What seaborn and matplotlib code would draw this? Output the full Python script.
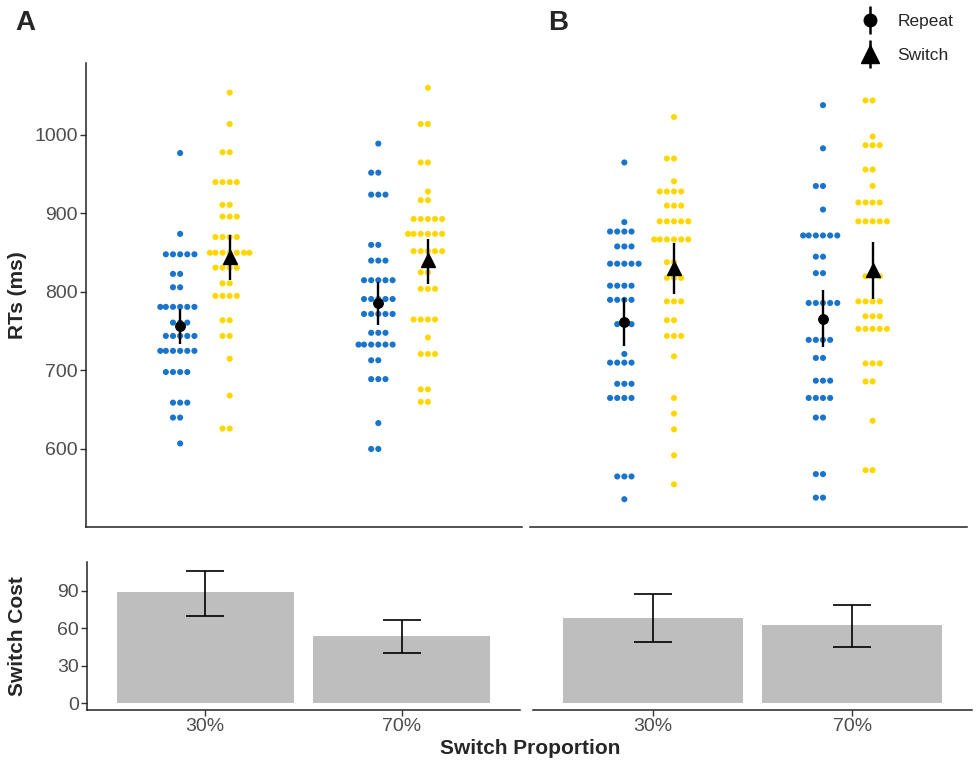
import numpy as np
import pandas as pd
import matplotlib
matplotlib.use("Agg")
import matplotlib.pyplot as plt
import seaborn as sns
from matplotlib.lines import Line2D
from matplotlib.legend_handler import HandlerTuple

# -----------------------
# Data
# -----------------------
props = ["30%", "70%"]
trials = ["Repeat", "Switch"]

# Panel A: RTs per participant (ms)
a_rep_30 = [977, 874, 848, 848, 848, 848, 848, 823, 823, 806, 806,
            781, 781, 781, 781, 781, 781, 761, 761, 761,
            744, 744, 744, 744, 744, 725, 725, 725, 725, 725, 725,
            698, 698, 698, 698, 659, 659, 659, 640, 640, 607]
a_sw_30 = [1054, 1014, 978, 978, 940, 940, 940, 940, 911, 911, 896, 896, 896,
           870, 870, 870, 870, 850, 850, 850, 850, 850, 850, 850,
           831, 831, 831, 831, 811, 811, 795, 795, 795, 795,
           764, 764, 744, 744, 715, 668, 626, 626]
a_rep_70 = [989, 952, 952, 924, 924, 924, 860, 860, 840, 840, 840,
            815, 815, 815, 815, 815, 791, 791, 791, 791, 791,
            772, 772, 772, 772, 772, 748, 748, 748, 733, 733, 733, 733, 733, 733,
            713, 713, 689, 689, 689, 633, 600, 600]
a_sw_70 = [1060, 1014, 1014, 965, 965, 928, 917, 917, 893, 893, 893, 893, 893,
           874, 874, 874, 874, 874, 874, 852, 852, 852, 852, 852, 825, 825,
           804, 804, 804, 765, 765, 765, 765, 742, 721, 721, 721, 676, 676, 660, 660]

# Panel B: RTs per participant (ms)
b_rep_30 = [965, 889, 877, 877, 877, 877, 858, 858, 858, 836, 836, 836, 836, 836,
            808, 808, 808, 808, 790, 790, 790, 790, 759, 759, 759, 721,
            710, 710, 710, 710, 683, 683, 683, 665, 665, 665, 665, 565, 565, 565, 536]
b_sw_30 = [1023, 970, 970, 941, 928, 928, 928, 928, 910, 910, 910,
           890, 890, 890, 890, 890, 867, 867, 867, 867, 867, 867, 838, 838,
           818, 818, 818, 788, 788, 788, 764, 764, 744, 744, 744,
           718, 665, 645, 625, 592, 555]
b_rep_70 = [1038, 983, 935, 935, 905, 872, 872, 872, 872, 872, 872, 845, 845, 824, 824,
            786, 786, 786, 786, 786, 763, 739, 739, 739, 739, 716, 716, 687, 687, 687,
            665, 665, 665, 665, 640, 640, 568, 568, 538, 538]
b_sw_70 = [1044, 1044, 998, 987, 987, 987, 956, 956, 935, 914, 914, 914, 914,
           890, 890, 890, 890, 890, 820, 820, 820, 788, 788, 788, 788, 769, 769, 769,
           753, 753, 753, 753, 753, 709, 709, 709, 686, 686, 636, 573, 573]

# condition means with 95% CI (ms)
a_rep_mean, a_rep_lo, a_rep_hi = [757, 786], [734, 758], [778, 813]
a_sw_mean, a_sw_lo, a_sw_hi = [845, 841], [815, 810], [873, 868]
b_rep_mean, b_rep_lo, b_rep_hi = [762, 766], [731, 730], [792, 803]
b_sw_mean, b_sw_lo, b_sw_hi = [831, 828], [798, 791], [863, 864]

# switch cost (ms) with 95% CI
a_cost, a_cost_lo, a_cost_hi = [88.9, 54.2], [70.2, 40.5], [105.8, 66.7]
b_cost, b_cost_lo, b_cost_hi = [68.6, 62.5], [48.9, 45.4], [87.6, 78.5]

BLUE = "#1874CD"
GOLD = "#FFD700"
BAR = "#BEBEBE"
DODGE = 0.125

sns.set_style("ticks")
plt.rcParams["font.family"] = ["Liberation Sans", "DejaVu Sans"]

W, H = 978, 769
fig = plt.figure(figsize=(W / 100, H / 100), dpi=100)


def box(l, t, r, b):
    return [l / W, 1 - b / H, (r - l) / W, (b - t) / H]


ax_a = fig.add_axes(box(86, 63, 522, 527))
ax_b = fig.add_axes(box(530, 63, 967, 527))
ax_ca = fig.add_axes(box(87, 562, 520, 710))
ax_cb = fig.add_axes(box(533, 562, 972, 710))


def style_axis(ax, show_y):
    ax.tick_params(axis="both", length=4, width=1, color="#333333",
                   labelsize=14, labelcolor="#4D4D4D", pad=2)
    for s in ["top", "right"]:
        ax.spines[s].set_visible(False)
    for s in ["left", "bottom"]:
        ax.spines[s].set_linewidth(1.1)
        ax.spines[s].set_color("#222222")
    if not show_y:
        ax.spines["left"].set_visible(False)
        ax.set_yticks([])
    ax.set_xlabel("")
    ax.set_ylabel("")


def rt_panel(ax, rep, sw, rep_stats, sw_stats, show_y):
    rows = []
    for i in range(len(props)):
        for t, vals, off in [("Repeat", rep[i], -DODGE), ("Switch", sw[i], DODGE)]:
            for v in vals:
                rows.append({"pos": i + off, "rt": v, "trial": t})
    df = pd.DataFrame(rows)
    sns.swarmplot(data=df, x="pos", y="rt", hue="trial", hue_order=trials,
                  palette=[BLUE, GOLD], native_scale=True, orient="x",
                  size=4.4, linewidth=0.5, edgecolor="none", legend=False,
                  warn_thresh=1, ax=ax)
    for (m, lo, hi), mk, ms, off in [(rep_stats, "o", 6.8, -DODGE),
                                     (sw_stats, "^", 9.5, DODGE)]:
        x = np.arange(len(props)) + off
        ax.errorbar(x, m, yerr=[np.subtract(m, lo), np.subtract(hi, m)],
                    fmt=mk, color="black", ms=ms, elinewidth=1.7, capsize=0,
                    zorder=5)
    ax.set_xlim(-0.6, 1.6)
    ax.set_ylim(500.6, 1091.7)
    ax.set_yticks([600, 700, 800, 900, 1000])
    ax.set_xticks([])
    style_axis(ax, show_y)


def cost_panel(ax, cost, lo, hi, show_y):
    sns.barplot(x=props, y=cost, color=BAR, saturation=1, width=0.9,
                errorbar=None, linewidth=0, ax=ax)
    ax.errorbar(np.arange(len(props)), cost,
                yerr=[np.subtract(cost, lo), np.subtract(hi, cost)],
                fmt="none", ecolor="black", elinewidth=1.2, capthick=1.2,
                capsize=14, zorder=3)
    ax.set_xlim(-0.6, 1.6)
    ax.set_ylim(-5.4, 113.2)
    ax.set_yticks([0, 30, 60, 90])
    style_axis(ax, show_y)


rt_panel(ax_a, [a_rep_30, a_rep_70], [a_sw_30, a_sw_70],
         (a_rep_mean, a_rep_lo, a_rep_hi), (a_sw_mean, a_sw_lo, a_sw_hi), True)
rt_panel(ax_b, [b_rep_30, b_rep_70], [b_sw_30, b_sw_70],
         (b_rep_mean, b_rep_lo, b_rep_hi), (b_sw_mean, b_sw_lo, b_sw_hi), False)
cost_panel(ax_ca, a_cost, a_cost_lo, a_cost_hi, True)
cost_panel(ax_cb, b_cost, b_cost_lo, b_cost_hi, False)

# labels
fig.text(15 / W, 1 - 23 / H, "A", fontsize=20, fontweight="bold", va="center", ha="left")
fig.text(548 / W, 1 - 23 / H, "B", fontsize=20, fontweight="bold", va="center", ha="left")
fig.text(18 / W, 1 - 295 / H, "RTs (ms)", fontsize=15, fontweight="bold",
         rotation=90, va="center", ha="center")
fig.text(18 / W, 1 - 636 / H, "Switch Cost", fontsize=15, fontweight="bold",
         rotation=90, va="center", ha="center")
fig.text(530 / W, 1 - 748 / H, "Switch Proportion", fontsize=15,
         fontweight="bold", va="center", ha="center")

# legend
vbar = dict(color="black", marker="|", ms=20, mew=1.8, ls="none")
h_rep = (Line2D([], [], **vbar), Line2D([], [], color="black", marker="o", ms=9, ls="none"))
h_sw = (Line2D([], [], **vbar), Line2D([], [], color="black", marker="^", ms=13, ls="none"))
fig.legend([h_rep, h_sw], trials, handler_map={tuple: HandlerTuple(ndivide=1)},
           loc="upper left", bbox_to_anchor=(852 / W, 1 - 7 / H), frameon=False,
           fontsize=12.5, labelspacing=1.1, handlelength=1.3, handletextpad=0.9,
           borderaxespad=0)

fig.savefig("out.png", dpi=100)
